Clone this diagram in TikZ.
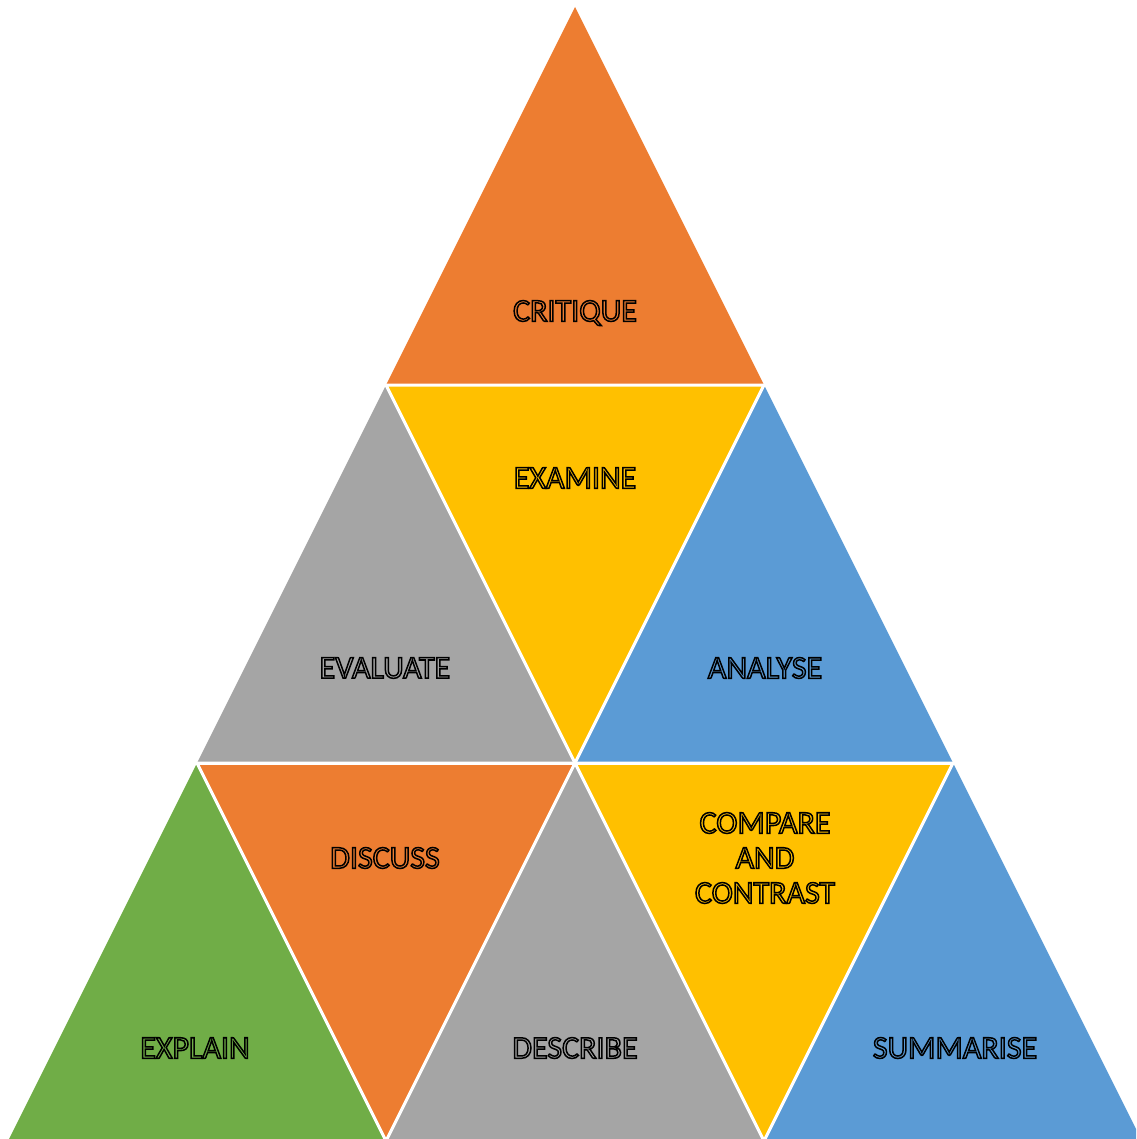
\documentclass[tikz,border=0pt]{standalone}
\usepackage{fontspec}
\setmainfont{Carlito}
\usetikzlibrary{calc}
\definecolor{cOrange}{HTML}{ED7D31}
\definecolor{cYellow}{HTML}{FFC000}
\definecolor{cBlue}{HTML}{5B9BD5}
\definecolor{cGray}{HTML}{A5A5A5}
\definecolor{cGreen}{HTML}{70AD47}
\newcommand{\olword}[1]{\special{pdf:literal direct 0 0 0 RG 2 Tr 1.5 w}#1\special{pdf:literal direct 0 Tr}}
\tikzset{
  tri/.style={draw=white, line width=3pt, line join=miter},
  lbl/.style={font=\fontsize{32}{35}\selectfont, align=center, inner sep=0pt}
}
\newcommand{\tlabel}[4]{%
  \node[lbl, text=#3] (#1) at #2 {#4};}
\begin{document}
\begin{tikzpicture}[x=1pt,y=-1pt]
\useasboundingbox (0,0) rectangle (1136,1139);
\begin{scope}
\clip (0,0) rectangle (1136,1139);
\coordinate (A) at (575,7);
\coordinate (B1) at (386,385); \coordinate (B2) at (764,385);
\coordinate (C1) at (197,763); \coordinate (C2) at (575,763); \coordinate (C3) at (953,763);
\coordinate (D1) at (8,1141); \coordinate (D2) at (386,1141); \coordinate (D3) at (764,1141); \coordinate (D4) at (1142,1141);
\fill[cOrange] (A) -- (B1) -- (B2) -- cycle;
\fill[cYellow] (B1) -- (B2) -- (C2) -- cycle;
\fill[cGray] (B1) -- (C1) -- (C2) -- cycle;
\fill[cBlue] (B2) -- (C2) -- (C3) -- cycle;
\fill[cGreen] (C1) -- (D1) -- (D2) -- cycle;
\fill[cOrange] (C1) -- (C2) -- (D2) -- cycle;
\fill[cGray] (C2) -- (D2) -- (D3) -- cycle;
\fill[cYellow] (C2) -- (C3) -- (D3) -- cycle;
\fill[cBlue] (C3) -- (D3) -- (D4) -- cycle;
\draw[tri] (B1) -- (B2) -- (C2) -- cycle;
\draw[tri] (C1) -- (C2) -- (D2) -- cycle;
\draw[tri] (C2) -- (C3) -- (D3) -- cycle;
\draw[tri] (C1) -- (C3);
\end{scope}
\tlabel{critique}{(575,313)}{cOrange}{\olword{CRITIQUE}}
\tlabel{examine}{(575,478)}{cYellow}{\olword{EXAMINE}}
\tlabel{evaluate}{(385,668)}{cGray}{\olword{EVALUATE}}
\tlabel{analyse}{(765,668)}{cBlue}{\olword{ANALYSE}}
\tlabel{discuss}{(385,858)}{cOrange}{\olword{DISCUSS}}
\tlabel{compare}{(765,858)}{cYellow}{\olword{COMPARE}\\\olword{AND}\\\olword{CONTRAST}}
\tlabel{explain}{(195,1048)}{cGreen}{\olword{EXPLAIN}}
\tlabel{describe}{(575,1048)}{cGray}{\olword{DESCRIBE}}
\tlabel{summarise}{(955,1048)}{cBlue}{\olword{SUMMARISE}}
\end{tikzpicture}
\end{document}
